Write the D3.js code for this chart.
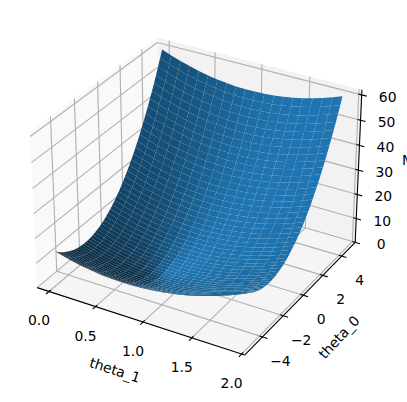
<!DOCTYPE html>
<html>
<head>
<meta charset="utf-8">
<script src="https://cdn.jsdelivr.net/npm/d3@7"></script>
<style>
  html, body { margin: 0; padding: 0; background: #fff; overflow: hidden; }
  text { font-family: "DejaVu Sans", sans-serif; font-size: 13.9px; fill: #000; }
</style>
</head>
<body>
<svg id="chart" width="407" height="402"></svg>
<script>
const thetaOne = [0, 0.1, 0.2, 0.3, 0.4, 0.5, 0.6, 0.7, 0.8, 0.9, 1, 1.1, 1.2, 1.3, 1.4, 1.5, 1.6, 1.7, 1.8, 1.9];
const thetaZero = [-5, -4.8, -4.6, -4.4, -4.2, -4, -3.8, -3.6, -3.4, -3.2, -3, -2.8, -2.6, -2.4, -2.2, -2, -1.8, -1.6, -1.4, -1.2,
  -1, -0.8, -0.6, -0.4, -0.2, 0, 0.2, 0.4, 0.6, 0.8, 1, 1.2, 1.4, 1.6, 1.8, 2, 2.2, 2.4, 2.6, 2.8,
  3, 3.2, 3.4, 3.6, 3.8, 4, 4.2, 4.4, 4.6, 4.8];

/* MSE: one row per theta_0, one column per theta_1 */
const cost = [
  [13.7,12.6,11.7,11.0,10.4,9.9,9.7,9.6,9.6,9.8,10.2,10.7,11.4,12.3,13.3,14.5,15.8,17.3,18.9,20.7],
  [12.7,11.6,10.7,10.0,9.4,8.9,8.7,8.6,8.6,8.8,9.2,9.7,10.4,11.2,12.2,13.4,14.7,16.2,17.8,19.6],
  [11.8,10.8,9.8,9.1,8.5,8.0,7.7,7.6,7.6,7.8,8.2,8.7,9.4,10.2,11.2,12.4,13.7,15.2,16.8,18.6],
  [11.0,9.9,9.0,8.2,7.6,7.2,6.9,6.8,6.8,7.0,7.3,7.8,8.5,9.3,10.3,11.5,12.8,14.2,15.9,17.7],
  [10.3,9.2,8.3,7.5,6.9,6.4,6.1,6.0,6.0,6.2,6.5,7.0,7.7,8.5,9.5,10.6,11.9,13.4,15.0,16.8],
  [9.7,8.6,7.6,6.8,6.2,5.7,5.4,5.3,5.3,5.5,5.8,6.3,6.9,7.8,8.7,9.9,11.2,12.6,14.2,16.0],
  [9.1,8.0,7.0,6.2,5.6,5.1,4.8,4.7,4.7,4.8,5.2,5.6,6.3,7.1,8.1,9.2,10.5,11.9,13.5,15.3],
  [8.6,7.5,6.5,5.7,5.1,4.6,4.3,4.1,4.1,4.3,4.6,5.1,5.7,6.5,7.5,8.6,9.9,11.3,12.9,14.6],
  [8.2,7.1,6.1,5.3,4.7,4.2,3.8,3.7,3.7,3.8,4.1,4.6,5.2,6.0,7.0,8.1,9.3,10.8,12.3,14.1],
  [7.9,6.8,5.8,5.0,4.3,3.8,3.5,3.3,3.3,3.4,3.7,4.2,4.8,5.6,6.5,7.6,8.9,10.3,11.9,13.6],
  [7.6,6.5,5.5,4.7,4.0,3.5,3.2,3.0,3.0,3.1,3.4,3.8,4.5,5.2,6.2,7.3,8.5,9.9,11.5,13.2],
  [7.5,6.3,5.3,4.5,3.8,3.3,3.0,2.8,2.7,2.9,3.2,3.6,4.2,5.0,5.9,7.0,8.2,9.6,11.2,12.9],
  [7.4,6.2,5.2,4.4,3.7,3.2,2.8,2.6,2.6,2.7,3.0,3.4,4.0,4.8,5.7,6.8,8.0,9.4,11.0,12.7],
  [7.4,6.2,5.2,4.4,3.7,3.2,2.8,2.6,2.5,2.6,2.9,3.3,3.9,4.7,5.6,6.7,7.9,9.3,10.8,12.5],
  [7.5,6.3,5.3,4.4,3.7,3.2,2.8,2.6,2.5,2.6,2.9,3.3,3.9,4.7,5.6,6.6,7.8,9.2,10.8,12.5],
  [7.6,6.4,5.4,4.6,3.8,3.3,2.9,2.7,2.6,2.7,3.0,3.4,4.0,4.7,5.6,6.7,7.9,9.3,10.8,12.5],
  [7.9,6.7,5.6,4.8,4.1,3.5,3.1,2.9,2.8,2.9,3.1,3.6,4.1,4.8,5.7,6.8,8.0,9.4,10.9,12.6],
  [8.2,7.0,5.9,5.1,4.3,3.8,3.4,3.1,3.1,3.1,3.4,3.8,4.3,5.1,5.9,7.0,8.2,9.5,11.1,12.7],
  [8.6,7.4,6.3,5.4,4.7,4.1,3.7,3.5,3.4,3.5,3.7,4.1,4.6,5.4,6.2,7.3,8.5,9.8,11.3,13.0],
  [9.0,7.8,6.8,5.9,5.1,4.6,4.2,3.9,3.8,3.9,4.1,4.5,5.0,5.7,6.6,7.6,8.8,10.1,11.6,13.3],
  [9.6,8.4,7.3,6.4,5.7,5.1,4.7,4.4,4.3,4.4,4.6,5.0,5.5,6.2,7.0,8.1,9.2,10.6,12.1,13.7],
  [10.2,9.0,7.9,7.0,6.3,5.7,5.3,5.0,4.9,4.9,5.1,5.5,6.0,6.7,7.6,8.6,9.8,11.1,12.6,14.2],
  [11.0,9.7,8.6,7.7,7.0,6.4,5.9,5.6,5.5,5.6,5.8,6.1,6.7,7.3,8.2,9.2,10.3,11.7,13.1,14.8],
  [11.8,10.5,9.4,8.5,7.7,7.1,6.7,6.4,6.3,6.3,6.5,6.8,7.4,8.0,8.9,9.9,11.0,12.3,13.8,15.4],
  [12.6,11.4,10.3,9.3,8.6,8.0,7.5,7.2,7.1,7.1,7.3,7.6,8.1,8.8,9.6,10.6,11.8,13.1,14.5,16.2],
  [13.6,12.3,11.2,10.3,9.5,8.9,8.4,8.1,8.0,8.0,8.2,8.5,9.0,9.7,10.5,11.5,12.6,13.9,15.4,17.0],
  [14.6,13.4,12.2,11.3,10.5,9.9,9.4,9.1,8.9,9.0,9.1,9.5,10.0,10.6,11.4,12.4,13.5,14.8,16.3,17.9],
  [15.7,14.5,13.3,12.4,11.6,10.9,10.5,10.2,10.0,10.0,10.2,10.5,11.0,11.6,12.4,13.4,14.5,15.8,17.2,18.8],
  [16.9,15.6,14.5,13.6,12.8,12.1,11.6,11.3,11.1,11.1,11.3,11.6,12.1,12.7,13.5,14.5,15.6,16.8,18.3,19.9],
  [18.2,16.9,15.8,14.8,14.0,13.3,12.8,12.5,12.3,12.3,12.5,12.8,13.3,13.9,14.7,15.6,16.7,18.0,19.4,21.0],
  [19.6,18.3,17.1,16.1,15.3,14.7,14.2,13.8,13.6,13.6,13.8,14.1,14.5,15.1,15.9,16.9,18.0,19.2,20.6,22.2],
  [21.0,19.7,18.5,17.6,16.7,16.1,15.6,15.2,15.0,15.0,15.1,15.4,15.9,16.5,17.3,18.2,19.3,20.5,21.9,23.5],
  [22.5,21.2,20.0,19.0,18.2,17.5,17.0,16.7,16.5,16.4,16.6,16.8,17.3,17.9,18.7,19.6,20.7,21.9,23.3,24.9],
  [24.1,22.8,21.6,20.6,19.8,19.1,18.6,18.2,18.0,18.0,18.1,18.4,18.8,19.4,20.1,21.1,22.1,23.4,24.8,26.3],
  [25.8,24.5,23.3,22.3,21.4,20.7,20.2,19.8,19.6,19.6,19.7,19.9,20.4,21.0,21.7,22.6,23.7,24.9,26.3,27.8],
  [27.5,26.2,25.0,24.0,23.1,22.4,21.9,21.5,21.3,21.3,21.4,21.6,22.0,22.6,23.4,24.3,25.3,26.5,27.9,29.5],
  [29.4,28.0,26.9,25.8,25.0,24.3,23.7,23.3,23.1,23.0,23.1,23.4,23.8,24.4,25.1,26.0,27.0,28.2,29.6,31.2],
  [31.3,29.9,28.7,27.7,26.8,26.1,25.6,25.2,24.9,24.9,24.9,25.2,25.6,26.2,26.9,27.8,28.8,30.0,31.4,32.9],
  [33.3,31.9,30.7,29.7,28.8,28.1,27.5,27.1,26.9,26.8,26.9,27.1,27.5,28.1,28.8,29.7,30.7,31.9,33.3,34.8],
  [35.4,34.0,32.8,31.7,30.8,30.1,29.5,29.1,28.9,28.8,28.9,29.1,29.5,30.0,30.7,31.6,32.6,33.8,35.2,36.7],
  [37.5,36.1,34.9,33.9,33.0,32.2,31.7,31.2,31.0,30.9,30.9,31.2,31.6,32.1,32.8,33.7,34.7,35.9,37.2,38.7],
  [39.8,38.4,37.2,36.1,35.2,34.4,33.9,33.4,33.2,33.1,33.1,33.3,33.7,34.2,34.9,35.8,36.8,38.0,39.3,40.8],
  [42.1,40.7,39.4,38.4,37.5,36.7,36.1,35.7,35.4,35.3,35.3,35.5,35.9,36.4,37.1,38.0,39.0,40.2,41.5,43.0],
  [44.5,43.1,41.8,40.8,39.8,39.1,38.5,38.0,37.7,37.6,37.7,37.9,38.2,38.7,39.4,40.3,41.3,42.4,43.7,45.2],
  [46.9,45.5,44.3,43.2,42.3,41.5,40.9,40.4,40.2,40.0,40.1,40.2,40.6,41.1,41.8,42.6,43.6,44.8,46.1,47.5],
  [49.5,48.1,46.8,45.7,44.8,44.0,43.4,43.0,42.7,42.5,42.5,42.7,43.1,43.6,44.2,45.1,46.0,47.2,48.5,50.0],
  [52.1,50.7,49.4,48.3,47.4,46.6,46.0,45.5,45.2,45.1,45.1,45.3,45.6,46.1,46.8,47.6,48.5,49.7,51.0,52.4],
  [54.9,53.4,52.2,51.0,50.1,49.3,48.7,48.2,47.9,47.7,47.7,47.9,48.2,48.7,49.4,50.2,51.1,52.3,53.6,55.0],
  [57.7,56.2,54.9,53.8,52.9,52.1,51.4,50.9,50.6,50.5,50.5,50.6,50.9,51.4,52.1,52.9,53.8,54.9,56.2,57.7],
  [60.5,59.1,57.8,56.7,55.7,54.9,54.2,53.8,53.4,53.3,53.3,53.4,53.7,54.2,54.8,55.6,56.6,57.7,59.0,60.4]
];

const thetaOneTicks = [0, 0.5, 1, 1.5, 2];
const thetaZeroTicks = [-4, -2, 0, 2, 4];
const costTicks = [0, 10, 20, 30, 40, 50, 60];

const svg = d3.select("#chart");

/* box limits of the 3d axes */
const xBox = d3.scaleLinear().domain([-0.1296, 2.0296]).range([0, 1]);
const yBox = d3.scaleLinear().domain([-5.668, 5.468]).range([0, 1]);
const zBox = d3.scaleLinear().domain([0, 62]).range([0, 1]);
const sxPx = d3.scaleLinear().domain([0, 1]).range([199, 407]);
const syPx = d3.scaleLinear().domain([0, 1]).range([189, -19]);

/* view: elev 30, azim -60, dist 10 */
const bx = 1.1429, bz = 0.8571;
const U = [0.866, 0.5, 0], V = [-0.25, 0.433, 0.866], N = [0.433, -0.75, 0.5];
function projectN(a, b, c) {
  const d = [(a - 0.5) * bx, (b - 0.5) * bx, (c - 0.5) * bz];
  const dot = v => v[0] * d[0] + v[1] * d[1] + v[2] * d[2];
  const f = 10 / (10 - dot(N));
  return [sxPx(dot(U) * f), syPx(dot(V) * f), dot(N)];
}
const project = (x, y, z) => projectN(xBox(x), yBox(y), zBox(z));
const line = d3.line();

function polyN(pts, fill) {
  svg.append("path").attr("d", line(pts.map(p => projectN(...p).slice(0, 2))) + "Z").attr("fill", fill);
}
function seg(p, q, color, width) {
  const a = project(...p), b = project(...q);
  svg.append("line").attr("x1", a[0]).attr("y1", a[1]).attr("x2", b[0]).attr("y2", b[1])
    .attr("stroke", color).attr("stroke-width", width);
}

/* panes */
polyN([[0, 0, 0], [0, 1, 0], [0, 1, 1], [0, 0, 1]], "#f9f9f9");
polyN([[0, 1, 0], [1, 1, 0], [1, 1, 1], [0, 1, 1]], "#f2f2f2");
polyN([[0, 0, 0], [1, 0, 0], [1, 1, 0], [0, 1, 0]], "#f5f5f5");

const [xLo, xHi] = xBox.domain(), [yLo, yHi] = yBox.domain(), [zLo, zHi] = zBox.domain();
const GRID = "#b0b0b0";

/* grid */
thetaOneTicks.forEach(t => {
  seg([t, yLo, zLo], [t, yHi, zLo], GRID, 1.11);
  seg([t, yHi, zLo], [t, yHi, zHi], GRID, 1.11);
});
thetaZeroTicks.forEach(t => {
  seg([xHi, t, zLo], [xLo, t, zLo], GRID, 1.11);
  seg([xLo, t, zLo], [xLo, t, zHi], GRID, 1.11);
});
costTicks.forEach(t => {
  seg([xLo, yLo, t], [xLo, yHi, t], GRID, 1.11);
  seg([xLo, yHi, t], [xHi, yHi, t], GRID, 1.11);
});

/* surface, lit from the default light source; normals are taken over a few
   cells because the table only has one decimal */
const light = [-0.6667, -0.6667, 0.3333];
const base = d3.rgb("#1f77b4");
const nx = thetaOne.length, ny = thetaZero.length, REACH = 3;
const cells = [];
for (let j = 0; j < ny - 1; j++) {
  for (let i = 0; i < nx - 1; i++) {
    const i0 = Math.max(i - REACH, 0), i1 = Math.min(i + 1 + REACH, nx - 1);
    const j0 = Math.max(j - REACH, 0), j1 = Math.min(j + 1 + REACH, ny - 1);
    const at = (a, b) => [thetaOne[a], thetaZero[b], cost[b][a]];
    const wide = [at(i0, j0), at(i1, j0), at(i1, j1), at(i0, j1)];
    const e1 = [wide[2][0] - wide[0][0], wide[2][1] - wide[0][1], wide[2][2] - wide[0][2]];
    const e2 = [wide[3][0] - wide[1][0], wide[3][1] - wide[1][1], wide[3][2] - wide[1][2]];
    const n = [e1[1] * e2[2] - e1[2] * e2[1], e1[2] * e2[0] - e1[0] * e2[2], e1[0] * e2[1] - e1[1] * e2[0]];
    const shade = (n[0] * light[0] + n[1] * light[1] + n[2] * light[2]) / Math.hypot(...n);
    const k = 0.3 + 0.35 * (shade + 1);
    const proj = [at(i, j), at(i + 1, j), at(i + 1, j + 1), at(i, j + 1)].map(p => project(...p));
    cells.push({ proj, depth: d3.mean(proj, p => p[2]), k });
  }
}
cells.sort((a, b) => a.depth - b.depth);
svg.append("g").selectAll("path").data(cells).join("path")
  .attr("d", c => line(c.proj.map(p => p.slice(0, 2))) + "Z")
  .attr("fill", c => d3.rgb(base.r * c.k, base.g * c.k, base.b * c.k).formatHex());

/* axis lines */
seg([xLo, yLo, zLo], [xHi, yLo, zLo], "#000", 1.11);
seg([xHi, yLo, zLo], [xHi, yHi, zLo], "#000", 1.11);
seg([xHi, yHi, zLo], [xHi, yHi, zHi], "#000", 1.11);

/* ticks + labels */
function label(txt, x, y, rot) {
  svg.append("text").attr("x", x).attr("y", y).attr("text-anchor", "middle")
    .attr("dominant-baseline", "central")
    .attr("transform", rot ? `rotate(${rot},${x},${y})` : null).text(txt);
}
const fmt1 = d3.format(".1f");
thetaOneTicks.forEach(t => {
  seg([t, yLo + 0.15, zLo], [t, yLo - 0.25, zLo], "#000", 1.11);
  const p = project(t, yLo, zLo);
  label(fmt1(t), p[0] - 10, p[1] + 29);
});
thetaZeroTicks.forEach(t => {
  seg([xHi - 0.03, t, zLo], [xHi + 0.05, t, zLo], "#000", 1.11);
  const p = project(xHi, t, zLo);
  label(d3.format("")(t).replace("-", "\u2212"), p[0] + 18, p[1] + 24);
});
costTicks.forEach(t => {
  seg([xHi - 0.03, yHi, t], [xHi + 0.05, yHi, t], "#000", 1.11);
  const p = project(xHi, yHi, t);
  label(String(t), p[0] + 26, p[1] + 2);
});

label("theta_1", 115, 370, 18);
label("theta_0", 339, 337, -47);
svg.append("text").attr("x", 402).attr("y", 160).attr("dominant-baseline", "central").text("MSE");
</script>
</body>
</html>
